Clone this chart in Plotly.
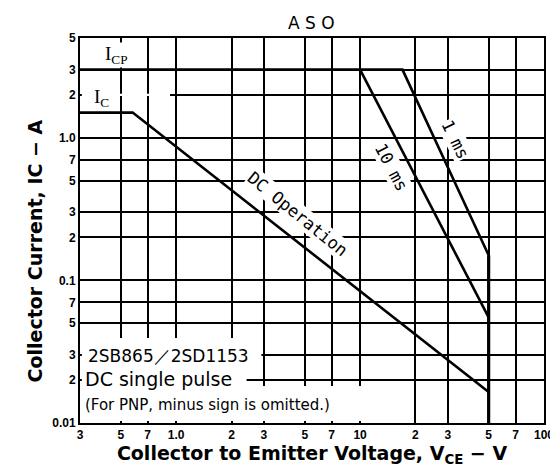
import plotly.graph_objects as go
import math

# ---- data ----
icp_v = [0.3, 17, 50]
icp_i = [3.0, 3.0, 0.15]
ms10_v = [10, 50]
ms10_i = [3.0, 0.055]
dc_v = [0.3, 0.58, 50]
dc_i = [1.5, 1.5, 0.0165]
vmax_v = [50, 50]
vmax_i = [0.15, 0.01]

x_tickvals = [0.3, 0.5, 0.7, 1, 2, 3, 5, 7, 10, 20, 30, 50, 70, 100]
x_ticktext = ["3", "5", "7", "1.0", "2", "3", "5", "7", "10", "2", "3", "5", "7", "100"]
y_tickvals = [5, 3, 2, 1, 0.7, 0.5, 0.3, 0.2, 0.1, 0.07, 0.05, 0.03, 0.02, 0.01]
y_ticktext = ["5", "3", "2", "1.0", "7", "5", "3", "2", "0.1", "7", "5", "3", "2", "0.01"]

fig = go.Figure()
line_style = dict(color="black", width=2.6)
for xs, ys in [(icp_v, icp_i), (ms10_v, ms10_i), (dc_v, dc_i)]:
    fig.add_trace(go.Scatter(x=xs, y=ys, mode="lines", line=line_style,
                             showlegend=False, hoverinfo="skip"))
fig.add_trace(go.Scatter(x=vmax_v, y=vmax_i, mode="lines",
                         line=dict(color="black", width=3.2),
                         showlegend=False, hoverinfo="skip"))

sans = "DejaVu Sans"
mono = "DejaVu Sans Mono"
serif = "Liberation Serif"
tick_font = dict(family="Liberation Sans", size=12, color="black", weight="bold")
title_font = dict(family=sans, size=19, color="black", weight="bold")

fig.update_xaxes(type="log", range=[math.log10(0.3), 2],
                 tickvals=x_tickvals, ticktext=x_ticktext, tickfont=tick_font,
                 showgrid=True, gridcolor="black", gridwidth=1.5,
                 showline=True, linecolor="black", linewidth=2, mirror=True,
                 ticks="", zeroline=False,
                 title=dict(text="Collector to Emitter Voltage, V<sub>CE</sub> − V",
                            font=title_font, standoff=0))
fig.update_yaxes(type="log", range=[-2, math.log10(5)],
                 tickvals=y_tickvals, ticktext=y_ticktext, tickfont=tick_font,
                 showgrid=True, gridcolor="black", gridwidth=1.5,
                 showline=True, linecolor="black", linewidth=2, mirror=True,
                 ticks="", zeroline=False)

# white masks over the grid where labels/notes sit
masks = [
    (0.004, 0.391, 0.13, 0.221),
    (0.004, 0.359, 0.096, 0.13),
    (0.004, 0.675, 0.005, 0.096),
    (0.004, 0.194, 0.8495, 0.8555),
]
for x0, x1, y0, y1 in masks:
    fig.add_shape(type="rect", xref="paper", yref="paper", x0=x0, x1=x1, y0=y0, y1=y1,
                  fillcolor="white", line=dict(width=0), layer="above")

anns = [
    dict(text="Collector Current, IC − A", x=-0.098, y=0.447, font=title_font,
         xanchor="center", textangle=-90),
    dict(text="A S O", x=0.498, y=1.039, font=dict(family=sans, size=17), xanchor="center"),
    dict(text="I<sub>CP</sub>", x=0.079, y=0.956, font=dict(family=serif, size=19),
         xanchor="center", bgcolor="white"),
    dict(text="I<sub>C</sub>", x=0.047, y=0.845, font=dict(family=serif, size=19),
         xanchor="center"),
    dict(text="DC Operation", x=0.469, y=0.542, font=dict(family=mono, size=17),
         xanchor="center", textangle=39, bgcolor="white"),
    dict(text="10 ms", x=0.671, y=0.665, font=dict(family=mono, size=17),
         xanchor="center", textangle=62, bgcolor="white"),
    dict(text="1 ms", x=0.810, y=0.736, font=dict(family=mono, size=17),
         xanchor="center", textangle=64, bgcolor="white"),
    dict(text="2SB865／2SD1153", x=0.015, y=0.174, font=dict(family=sans, size=17),
         xanchor="left"),
    dict(text="DC single pulse", x=0.009, y=0.114, font=dict(family=sans, size=19),
         xanchor="left"),
    dict(text="(For PNP, minus sign is omitted.)", x=0.009, y=0.047,
         font=dict(family=sans, size=15), xanchor="left"),
]
for a in anns:
    fig.add_annotation(xref="paper", yref="paper", showarrow=False, yanchor="middle",
                       borderpad=0, **a)

fig.update_layout(width=558, height=466, margin=dict(l=72, r=18, t=30, b=51),
                  plot_bgcolor="white", paper_bgcolor="white",
                  font=dict(family=sans, color="black"))

fig.write_html("out.html")
